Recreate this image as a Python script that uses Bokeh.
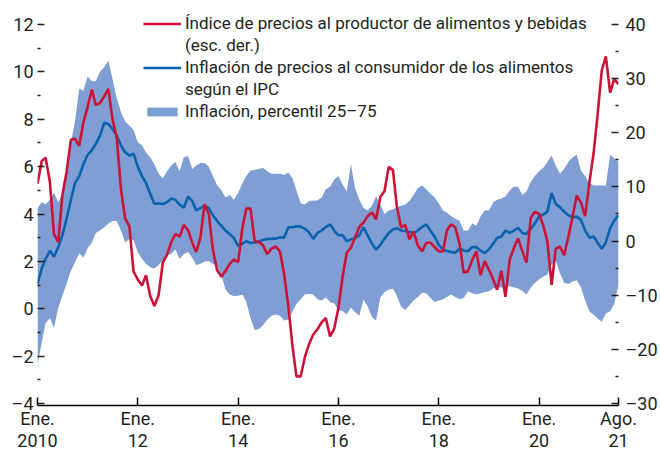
import pandas as pd
from bokeh.plotting import figure
from bokeh.models import Range1d, LinearAxis, FixedTicker, Legend, LegendItem
from bokeh.embed import file_html
from bokeh.resources import INLINE

dates = pd.date_range("2010-01-01", "2021-08-01", freq="MS")

cpi_food = [1.05,1.7,2.1,2.45,2.2,2.6,3.1,3.8,4.6,5.3,
 5.6,6.1,6.5,6.7,6.95,7.3,7.85,7.8,7.6,7.3,
 6.9,6.6,6.47,6.55,6.0,5.6,5.3,4.85,4.43,4.45,
 4.42,4.5,4.65,4.6,4.4,4.26,4.74,4.54,4.15,4.25,
 4.35,4.25,3.95,3.7,3.5,3.3,3.15,2.98,2.66,2.75,
 2.85,2.78,2.8,2.84,2.9,2.95,2.95,2.96,3.02,3.0,
 3.44,3.44,3.48,3.47,3.38,3.23,2.95,3.2,3.3,3.45,
 3.56,3.3,3.1,3.1,2.85,2.93,2.98,3.1,3.44,3.1,
 2.75,2.49,2.7,2.95,3.2,3.35,3.4,3.3,3.27,3.25,
 3.19,3.3,3.45,3.56,3.3,3.05,2.7,2.5,2.44,2.4,
 2.36,2.55,2.46,2.43,2.6,2.6,2.45,2.35,2.5,2.75,
 2.99,3.05,3.3,3.2,3.3,3.42,3.2,3.16,3.37,3.6,
 3.9,3.98,4.1,4.88,4.42,4.28,4.1,3.95,3.85,3.89,
 3.75,3.3,3.0,3.05,2.8,2.53,2.8,3.4,3.72,3.95]

ppi_food = [10.6,14.8,15.4,11.0,1.3,-0.2,8.5,12.8,18.7,18.9,
 17.6,21.9,24.8,28.0,25.1,25.5,26.7,28.1,22.5,19.1,
 9.5,4.2,2.7,-5.6,-7.1,-8.2,-6.3,-10.2,-12.0,-10.0,
 -4.0,-2.5,-0.2,1.3,0.8,3.0,2.0,-0.3,-2.0,0.6,
 6.8,5.0,-1.6,-5.4,-6.6,-5.5,-4.2,-3.4,-3.9,2.5,
 6.0,6.0,0.0,-0.2,-0.8,-2.4,-1.4,-1.0,-1.9,-6.0,
 -12.0,-19.5,-25.0,-25.0,-21.5,-19.0,-17.3,-16.3,-15.0,-14.2,
 -17.6,-16.2,-12.3,-6.5,-2.2,-1.2,0.7,2.6,3.4,4.6,
 5.3,4.0,8.2,9.2,13.7,13.1,6.4,2.5,3.0,0.3,
 1.8,-0.8,-1.9,-0.3,-0.3,-1.1,-1.9,-1.9,2.0,3.1,
 2.5,-0.5,-5.8,-5.6,-3.5,-1.9,-6.3,-3.7,-5.3,-7.1,
 -9.0,-5.5,-10.3,-3.4,-1.3,0.5,-1.9,-4.0,4.3,5.4,
 5.0,2.8,0.0,-8.1,-1.4,-1.0,-2.6,0.8,4.6,8.4,
 7.1,4.6,10.8,16.3,23.1,31.5,34.1,27.4,29.9,29.0]

p75 = [4.25,4.5,4.4,4.6,4.9,4.5,4.85,5.8,7.0,7.9,
 9.3,9.2,9.8,9.6,9.6,10.0,10.2,10.48,9.7,8.9,
 8.3,7.9,7.74,7.55,7.03,6.9,6.6,6.4,6.1,5.7,
 5.5,5.8,6.05,6.2,5.8,6.4,6.45,5.9,6.05,6.15,
 6.15,6.0,5.6,5.2,5.0,4.7,4.8,4.6,4.9,5.3,
 5.6,5.84,5.86,5.9,5.95,5.8,5.7,5.7,5.7,5.65,
 5.75,5.5,5.0,4.45,4.4,4.55,4.57,4.57,4.7,5.05,
 5.15,5.45,5.6,5.25,4.95,6.1,5.1,4.6,4.25,4.15,
 4.35,4.75,4.4,4.0,4.15,4.2,4.3,4.35,4.4,4.55,
 4.8,5.1,5.2,5.05,4.85,4.71,4.43,4.15,4.05,3.9,
 3.8,3.7,3.3,3.3,3.6,3.5,3.9,4.15,4.15,4.5,
 4.6,4.65,4.74,4.99,5.15,5.15,4.8,4.95,5.35,5.6,
 5.8,5.95,6.2,6.47,6.05,5.7,5.9,6.2,6.4,6.5,
 5.84,5.6,5.3,5.2,5.2,5.2,5.2,6.5,6.35,6.2]

p25 = [-2.4,-1.4,-0.6,-0.4,-0.8,0.04,0.55,1.07,1.6,1.95,
 2.35,2.15,2.55,2.8,3.2,3.3,3.44,3.6,3.7,3.7,
 3.3,2.8,2.95,2.9,2.4,2.1,1.9,1.75,1.7,1.85,
 2.05,2.25,2.32,2.5,2.1,2.3,2.4,2.15,1.85,1.9,
 2.0,2.01,1.9,1.8,1.4,0.8,0.6,0.53,0.55,0.6,
 0.3,-0.4,-0.9,-0.85,-0.7,-0.45,-0.3,-0.24,-0.3,-0.5,
 -0.45,-0.1,0.2,0.4,0.6,0.62,0.6,0.4,0.35,0.49,
 0.28,0.22,-0.05,-0.1,-0.24,0.05,-0.15,-0.3,0.39,0.1,
 -0.36,-0.5,0.49,0.7,0.81,0.84,0.55,0.1,-0.05,0.15,
 0.35,0.5,0.68,0.65,0.45,0.28,0.35,0.4,0.5,0.6,
 0.5,0.4,0.45,0.74,0.65,0.6,0.65,0.7,0.74,0.85,
 0.9,0.9,0.92,0.95,0.9,0.85,0.75,0.6,0.9,1.09,
 1.25,1.35,1.45,1.87,2.04,1.5,1.1,1.05,1.15,1.2,
 0.9,0.35,-0.1,-0.25,-0.4,-0.55,-0.2,-0.1,0.2,1.0]

x_tick_dates = ["2010-01-01", "2012-01-01", "2014-01-01", "2016-01-01",
                "2018-01-01", "2020-01-01", "2021-08-01"]
x_tick_labels = ["Ene.\n2010", "Ene.\n12", "Ene.\n14", "Ene.\n16",
                 "Ene.\n18", "Ene.\n20", "Ago.\n21"]
left_ticks = [12, 10, 8, 6, 4, 2, 0, -2, -4]
left_minor = [11, 9, 7, 5, 3, 1, -1, -3]
right_ticks = [40, 30, 20, 10, 0, -10, -20, -30]
right_minor = [35, 25, 15, 5, -5, -15, -25]

legend_labels = ["Índice de precios al productor de alimentos y bebidas",
                 "(esc. der.)",
                 "Inflación de precios al consumidor de los alimentos",
                 "según el IPC",
                 "Inflación, percentil 25–75"]

FONT = "Roboto"
TXT = "#231f20"
RED = "#cc1237"
BLUE = "#0a62ad"
BAND = "#7f9ed4"

def ms(d):
    return pd.Timestamp(d).value / 1e6

def dash_label(v):
    return ("–" + str(abs(v))) if v < 0 else str(v)

p = figure(width=660, height=454, output_backend="svg", toolbar_location=None,
           x_axis_type=None, y_axis_type=None,
           x_range=Range1d(ms(dates[0]), ms(dates[-1])),
           y_range=Range1d(-4.084, 13.013),
           min_border_left=37, min_border_right=36, min_border_top=0, min_border_bottom=48)
p.extra_y_ranges = {"right": Range1d(-30.37, 44.43)}
p.outline_line_color = None
p.background_fill_color = "white"
p.border_fill_color = "white"

band = p.varea(x=dates, y1=p25, y2=p75, fill_color=BAND, fill_alpha=1.0)
blank = p.line(x=dates, y=cpi_food, line_alpha=0)
blue = p.line(x=dates, y=cpi_food, line_color=BLUE, line_width=2.6)
red = p.line(x=dates, y=ppi_food, y_range_name="right", line_color=RED, line_width=2.6)

# axes
xaxis = LinearAxis(ticker=FixedTicker(ticks=[ms(d) for d in x_tick_dates], minor_ticks=[]))
xaxis.major_label_overrides = {ms(d): lab for d, lab in zip(x_tick_dates, x_tick_labels)}
xaxis.axis_line_color = "black"
xaxis.axis_line_width = 1.5
xaxis.major_tick_line_color = "black"
xaxis.major_tick_line_width = 1.5
xaxis.major_tick_in = 8
xaxis.major_tick_out = 0
xaxis.minor_tick_line_color = None
xaxis.major_label_standoff = 2
xaxis.major_label_text_font = FONT
xaxis.major_label_text_font_size = "18px"
xaxis.major_label_text_line_height = 1.09
xaxis.major_label_text_color = TXT
p.add_layout(xaxis, "below")

laxis = LinearAxis(ticker=FixedTicker(ticks=left_ticks, minor_ticks=left_minor))
laxis.major_label_overrides = {v: dash_label(v) for v in left_ticks}
p.add_layout(laxis, "left")

raxis = LinearAxis(y_range_name="right", ticker=FixedTicker(ticks=right_ticks, minor_ticks=right_minor))
raxis.major_label_overrides = {v: dash_label(v) for v in right_ticks}
p.add_layout(raxis, "right")

for ax in (laxis, raxis):
    ax.axis_line_color = None
    ax.major_tick_line_color = TXT
    ax.major_tick_line_width = 1.3
    ax.minor_tick_line_color = TXT
    ax.minor_tick_line_width = 1.3
    ax.major_tick_in = 7
    ax.major_tick_out = 0
    ax.minor_tick_in = 3
    ax.minor_tick_out = 0
    ax.major_label_text_font = FONT
    ax.major_label_text_font_size = "18px"
    ax.major_label_text_color = TXT
laxis.major_label_standoff = 4
raxis.major_label_standoff = 7

items = [LegendItem(label=legend_labels[0], renderers=[red]),
         LegendItem(label=legend_labels[1], renderers=[blank]),
         LegendItem(label=legend_labels[2], renderers=[blue]),
         LegendItem(label=legend_labels[3], renderers=[blank]),
         LegendItem(label=legend_labels[4], renderers=[band])]
legend = Legend(items=items, location=(106, 283), orientation="vertical",
                border_line_color=None, background_fill_alpha=0,
                padding=0, margin=0, spacing=0, label_standoff=4,
                glyph_width=38, glyph_height=11, label_height=22,
                label_text_font=FONT, label_text_font_size="17px",
                label_text_color=TXT)
p.add_layout(legend)

open("out.html", "w").write(file_html(p, INLINE))
